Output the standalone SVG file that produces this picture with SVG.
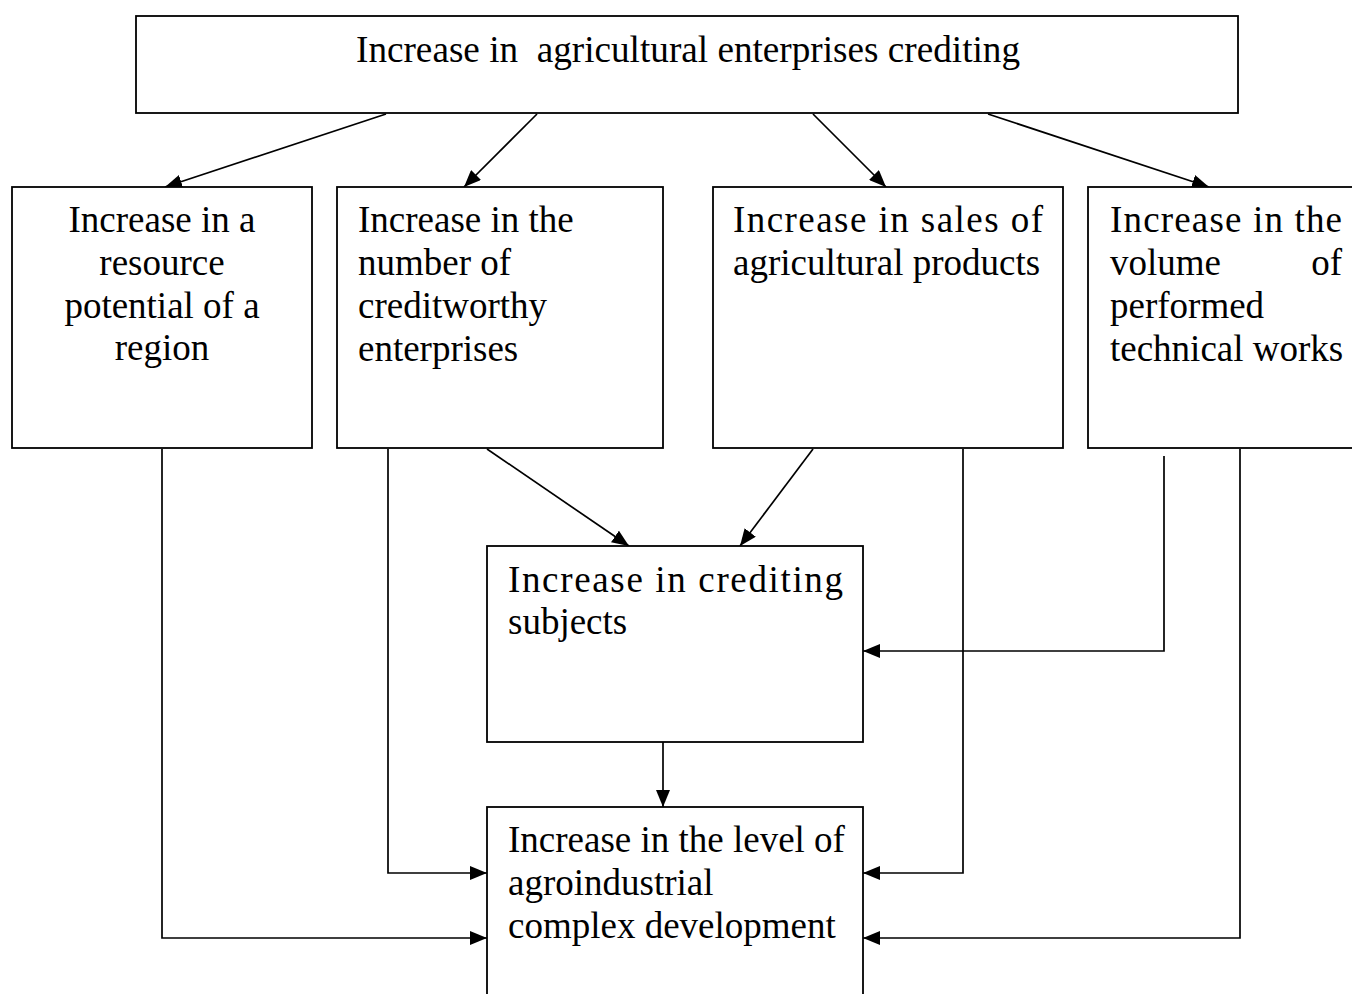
<svg xmlns="http://www.w3.org/2000/svg" width="1352" height="994" viewBox="0 0 1352 994">
<defs>
<style>
.box{fill:#fff;stroke:#000;stroke-width:1.8}
text{font-family:'Liberation Serif','Times New Roman',Tinos,serif;font-size:37px;fill:#000}
.c{text-anchor:middle}
.e{text-anchor:end}
.ln{fill:none;stroke:#000;stroke-width:1.7}
</style>
<marker id="ah" viewBox="0 0 17 14" refX="17" refY="7" markerWidth="17" markerHeight="14" markerUnits="userSpaceOnUse" orient="auto">
<path d="M0,0 L17,7 L0,14 z" fill="#000"/>
</marker>
</defs>
<rect width="1352" height="994" fill="#fff"/>
<g id="connectors">
<path class="ln" d="M386,114 L165,187" marker-end="url(#ah)"/>
<path class="ln" d="M537,114 L464,187" marker-end="url(#ah)"/>
<path class="ln" d="M813,114 L886,187" marker-end="url(#ah)"/>
<path class="ln" d="M988,114 L1209,187" marker-end="url(#ah)"/>
<path class="ln" d="M487,449 L629,546" marker-end="url(#ah)"/>
<path class="ln" d="M813,449 L740,546" marker-end="url(#ah)"/>
<path class="ln" d="M1164,456 L1164,651 L863,651" marker-end="url(#ah)"/>
<path class="ln" d="M663,742 L663,807" marker-end="url(#ah)"/>
<path class="ln" d="M388,449 L388,873 L487,873" marker-end="url(#ah)"/>
<path class="ln" d="M963,449 L963,873 L863,873" marker-end="url(#ah)"/>
<path class="ln" d="M162,449 L162,938 L487,938" marker-end="url(#ah)"/>
<path class="ln" d="M1240,449 L1240,938 L863,938" marker-end="url(#ah)"/>
</g>
<g id="top">
<rect class="box" x="136" y="16" width="1102" height="97"/>
<text x="356" y="62" xml:space="preserve" textLength="664" lengthAdjust="spacingAndGlyphs">Increase in  agricultural enterprises crediting</text>
</g>
<g id="resource">
<rect class="box" x="12" y="187" width="300" height="261"/>
<text class="c" x="162" y="232">Increase in a</text>
<text class="c" x="162" y="275">resource</text>
<text class="c" x="162" y="318">potential of a</text>
<text class="c" x="162" y="360">region</text>
</g>
<g id="creditworthy">
<rect class="box" x="337" y="187" width="326" height="261"/>
<text x="358" y="232">Increase in the</text>
<text x="358" y="275">number of</text>
<text x="358" y="318">creditworthy</text>
<text x="358" y="361">enterprises</text>
</g>
<g id="sales">
<rect class="box" x="713" y="187" width="350" height="261"/>
<text x="733" y="232" textLength="310" lengthAdjust="spacing">Increase in sales of</text>
<text x="733" y="275">agricultural products</text>
</g>
<g id="technical">
<rect class="box" x="1088" y="187" width="290" height="261"/>
<text x="1110" y="232" textLength="232" lengthAdjust="spacing">Increase in the</text>
<text x="1110" y="275">volume</text>
<text class="e" x="1342" y="275">of</text>
<text x="1110" y="318">performed</text>
<text x="1110" y="361">technical works</text>
</g>
<g id="subjects">
<rect class="box" x="487" y="546" width="376" height="196"/>
<text x="508" y="592" textLength="335" lengthAdjust="spacing">Increase in crediting</text>
<text x="508" y="634">subjects</text>
</g>
<g id="agroindustrial">
<rect class="box" x="487" y="807" width="376" height="200"/>
<text x="508" y="852">Increase in the level of</text>
<text x="508" y="895">agroindustrial</text>
<text x="508" y="938">complex development</text>
</g>
</svg>
